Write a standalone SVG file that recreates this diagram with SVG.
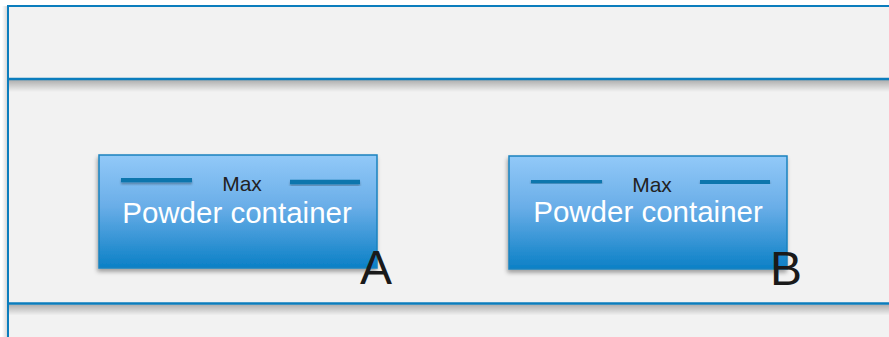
<svg xmlns="http://www.w3.org/2000/svg" width="889" height="337" viewBox="0 0 889 337">
  <defs>
    <linearGradient id="boxGrad" x1="0" y1="0" x2="0" y2="1">
      <stop offset="0" stop-color="#92c9f8"/>
      <stop offset="0.45" stop-color="#6aaee8"/>
      <stop offset="1" stop-color="#0b80c6"/>
    </linearGradient>
    <linearGradient id="shadeDown" x1="0" y1="0" x2="0" y2="1">
      <stop offset="0" stop-color="#000" stop-opacity="0.28"/>
      <stop offset="1" stop-color="#000" stop-opacity="0"/>
    </linearGradient>
    <linearGradient id="shadeLeft" x1="1" y1="0" x2="0" y2="0">
      <stop offset="0" stop-color="#000" stop-opacity="0.18"/>
      <stop offset="1" stop-color="#000" stop-opacity="0"/>
    </linearGradient>
    <filter id="drop" x="-10%" y="-10%" width="120%" height="130%">
      <feDropShadow dx="-1" dy="3" stdDeviation="2" flood-color="#000" flood-opacity="0.35"/>
    </filter>
    <filter id="lineDrop" x="-10%" y="-100%" width="120%" height="400%">
      <feDropShadow dx="0" dy="2" stdDeviation="1.2" flood-color="#000" flood-opacity="0.3"/>
    </filter>
  </defs>
  <style>
    .frame { fill: #f2f2f2; stroke: #0b7dbd; stroke-width: 2; }
    .sep { stroke: #0b7dbd; stroke-width: 2.5; fill: none; }
    .box { fill: url(#boxGrad); stroke: #1a83bf; stroke-width: 1.5; }
    .level { stroke: #0b76ad; stroke-width: 4.5; fill: none; }
    .max { font-family: "Liberation Sans", Arial, sans-serif; font-size: 21px; fill: #222222; text-anchor: middle; }
    .name { font-family: "Liberation Sans", Arial, sans-serif; font-size: 29.5px; fill: #ffffff; text-anchor: middle; }
    .tag { font-family: "Liberation Sans", Arial, sans-serif; font-size: 48px; fill: #1a1a1a; }
  </style>
  <rect width="889" height="337" fill="#ffffff"/>
  <g id="frame">
    <rect x="2" y="6" width="6" height="331" fill="url(#shadeLeft)"/>
    <rect class="frame" x="8" y="6" width="900" height="345"/>
    <rect x="9" y="80" width="880" height="12" fill="url(#shadeDown)"/>
    <rect x="9" y="304.5" width="880" height="11" fill="url(#shadeDown)"/>
    <line class="sep" x1="8" y1="79" x2="889" y2="79"/>
    <line class="sep" x1="8" y1="303.5" x2="889" y2="303.5"/>
  </g>
  <g id="containerA">
    <rect class="box" x="99" y="155" width="278" height="113" filter="url(#drop)"/>
    <g filter="url(#lineDrop)">
      <line class="level" x1="121" y1="180" x2="192" y2="180"/>
      <line class="level" x1="290" y1="182" x2="360" y2="182"/>
    </g>
    <text class="max" x="242" y="191">Max</text>
    <text class="name" x="237" y="223">Powder container</text>
    <text class="tag" x="360" y="284">A</text>
  </g>
  <g id="containerB">
    <rect class="box" x="509" y="156" width="278" height="113" filter="url(#drop)"/>
    <g filter="url(#lineDrop)">
      <line class="level" x1="531" y1="181" x2="602" y2="181"/>
      <line class="level" x1="700" y1="182" x2="770" y2="182"/>
    </g>
    <text class="max" x="652" y="192">Max</text>
    <text class="name" x="648" y="222">Powder container</text>
    <text class="tag" x="770" y="285">B</text>
  </g>
  <g id="connectors"/>
</svg>
